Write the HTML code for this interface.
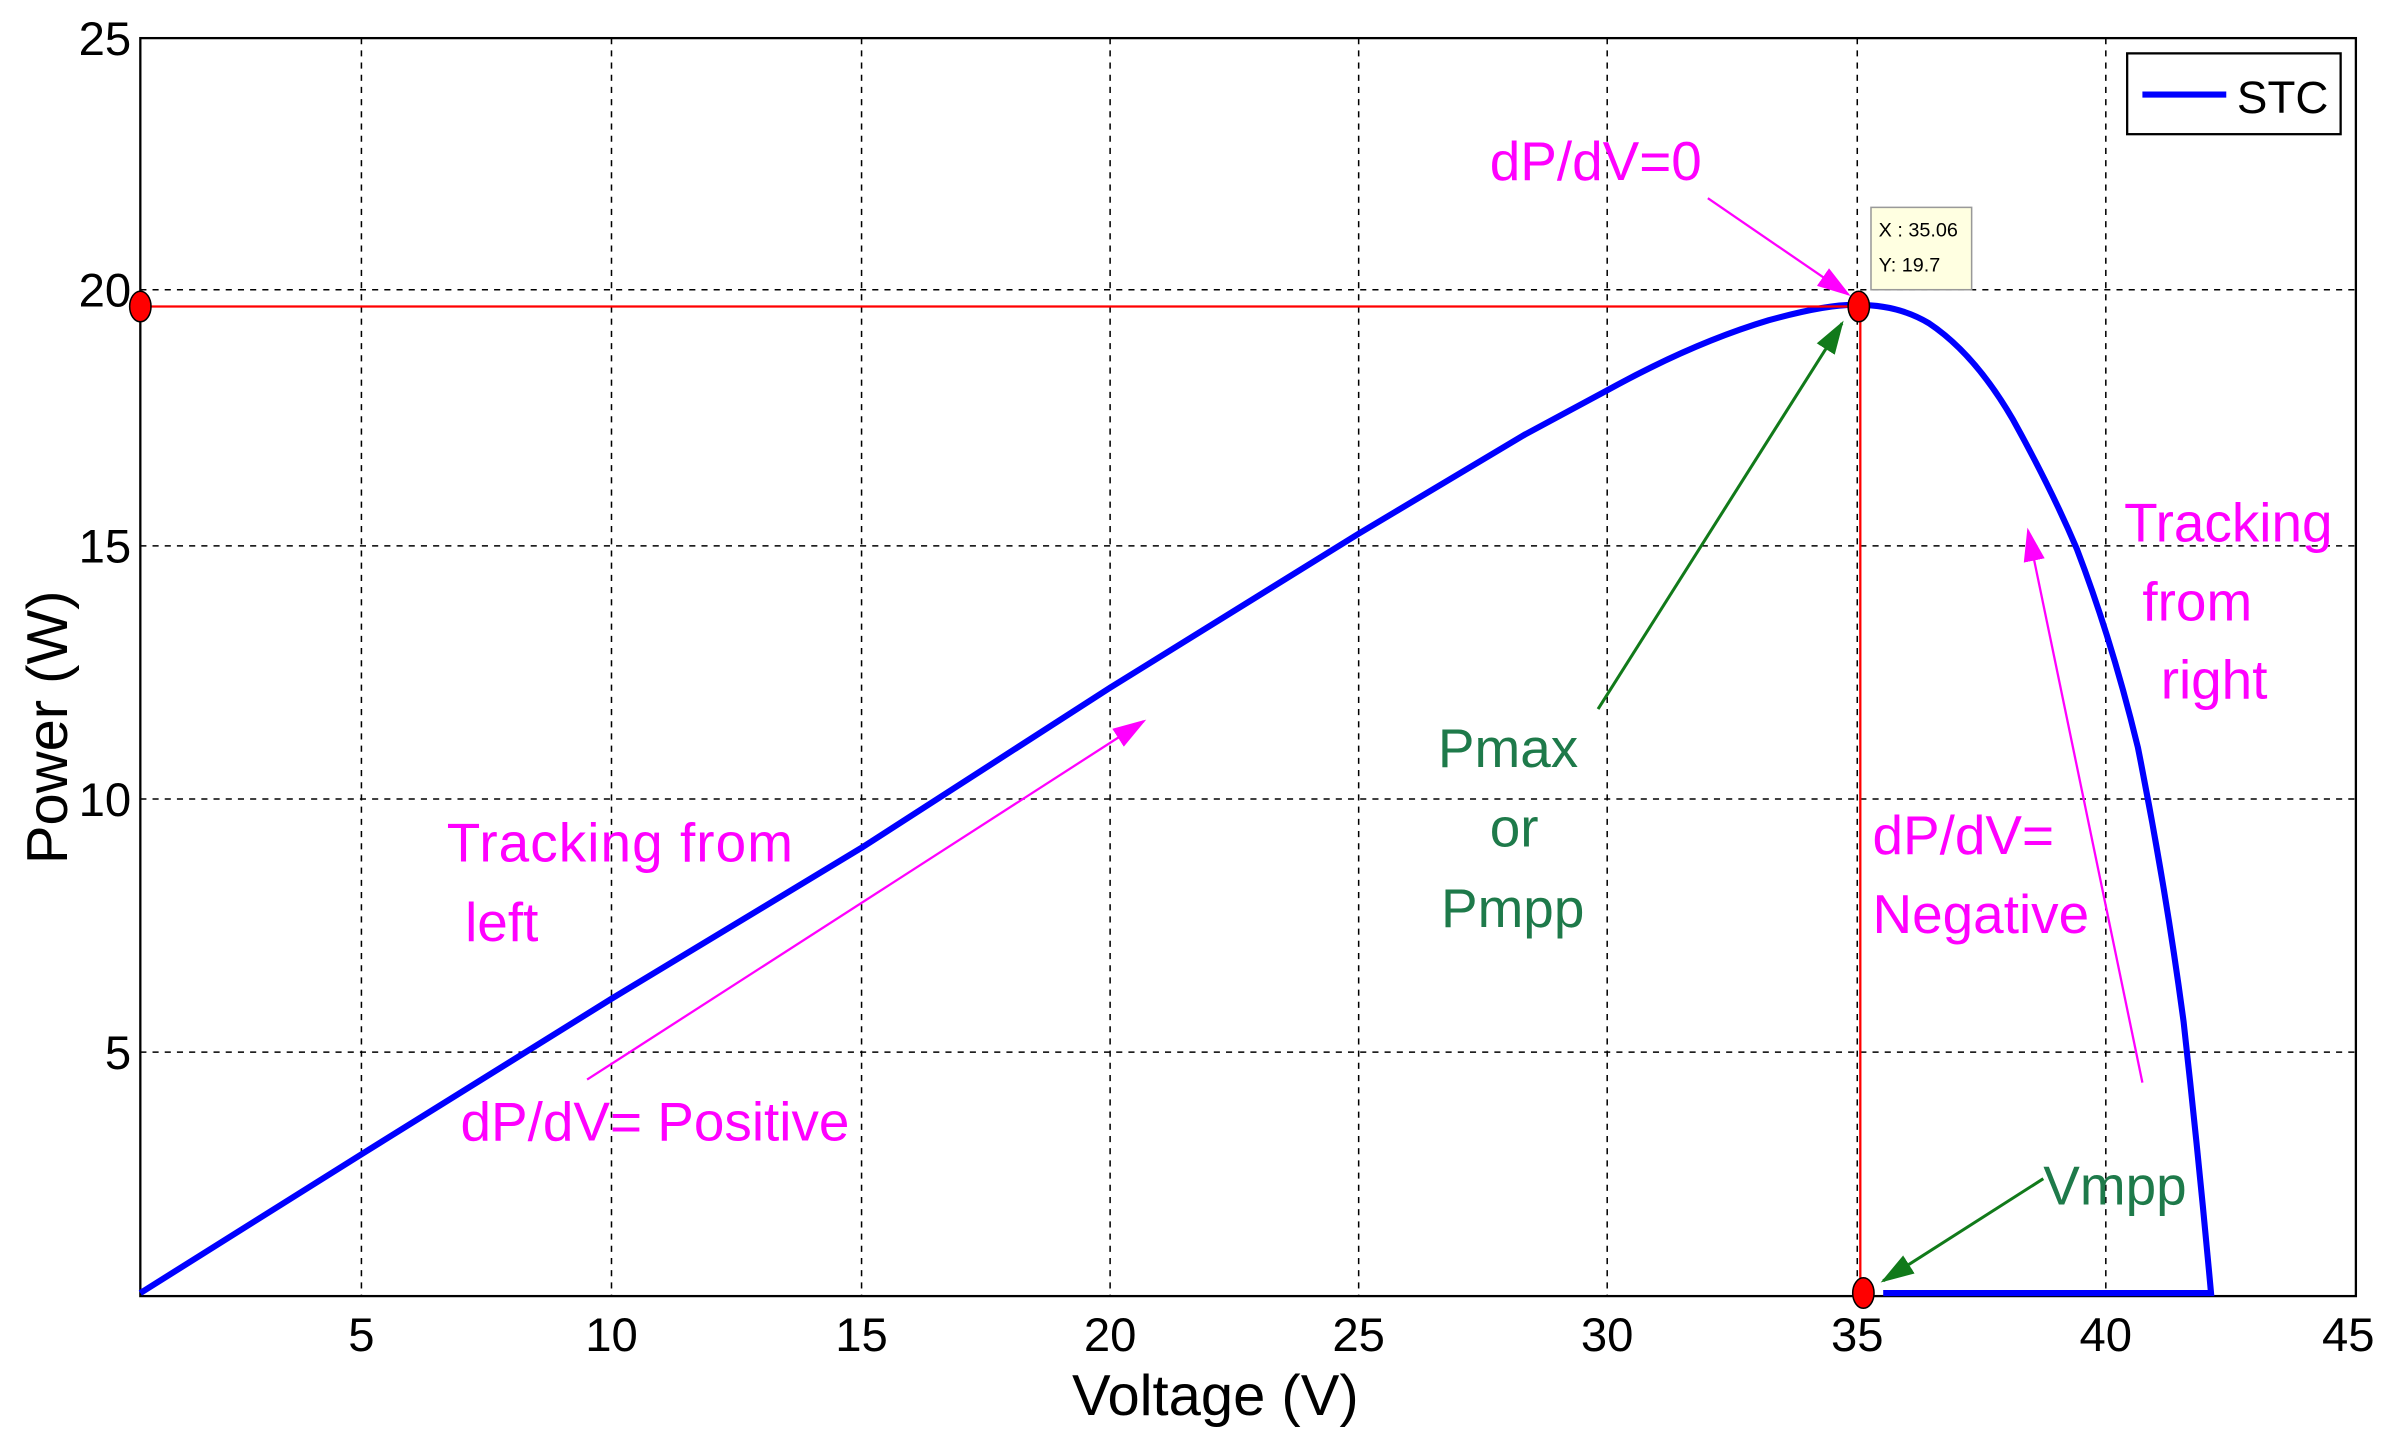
<!DOCTYPE html>
<html><head><meta charset="utf-8"><style>html,body{margin:0;padding:0;background:#fff}svg{display:block}</style></head><body>
<svg xmlns="http://www.w3.org/2000/svg" width="2391" height="1444" viewBox="0 0 1568 947" font-family="Liberation Sans, Arial, sans-serif">
<defs>
<marker id="ag" markerWidth="22" markerHeight="14" refX="20" refY="7" orient="auto" markerUnits="userSpaceOnUse"><path d="M0,0 L22,7 L0,14z" fill="#117a1a"/></marker>
<marker id="am2" markerWidth="22" markerHeight="14" refX="20" refY="7" orient="auto" markerUnits="userSpaceOnUse"><path d="M0,0 L22,7 L0,14z" fill="#ff00ff"/></marker>
</defs>
<rect width="1568" height="947" fill="#fff"/>
<g stroke="#000" stroke-width="1" stroke-dasharray="4,4">
<line x1="237" y1="25" x2="237" y2="850"/><line x1="401" y1="25" x2="401" y2="850"/>
<line x1="565" y1="25" x2="565" y2="850"/><line x1="728" y1="25" x2="728" y2="850"/>
<line x1="891" y1="25" x2="891" y2="850"/><line x1="1054" y1="25" x2="1054" y2="850"/>
<line x1="1218" y1="25" x2="1218" y2="850"/><line x1="1381" y1="25" x2="1381" y2="850"/>
<line x1="92" y1="190" x2="1545" y2="190"/><line x1="92" y1="358" x2="1545" y2="358"/>
<line x1="92" y1="524" x2="1545" y2="524"/><line x1="92" y1="690" x2="1545" y2="690"/>
</g>
<rect x="92" y="25" width="1453" height="825" fill="none" stroke="#000" stroke-width="1.5"/>
<g font-size="31" fill="#000" text-anchor="end">
<text x="86" y="36">25</text><text x="86" y="201">20</text><text x="86" y="369">15</text><text x="86" y="535">10</text><text x="86" y="701">5</text>
</g>
<g font-size="31" fill="#000" text-anchor="middle">
<text x="237" y="886">5</text><text x="401" y="886">10</text><text x="565" y="886">15</text><text x="728" y="886">20</text><text x="891" y="886">25</text><text x="1054" y="886">30</text><text x="1218" y="886">35</text><text x="1381" y="886">40</text><text x="1540" y="886">45</text>
<text x="797" y="928" font-size="38">Voltage (V)</text>
<text transform="translate(44,477) rotate(-90)" font-size="38">Power (W)</text>
</g>
<path d="M92,848 L237,757 L401,655 L565,556 L728,451 L891,350 L1000,285 L1054,256 Q1110,225 1160,210 Q1200,199 1219,200 Q1245,200 1265,212 Q1295,232 1320,275 Q1345,320 1362,360 Q1385,420 1402,490 Q1420,580 1432,670 Q1442,760 1450,848 L1235,848" fill="none" stroke="#0000ff" stroke-width="4"/>
<g stroke="#ff0000" stroke-width="1.5"><line x1="92" y1="201" x2="1219" y2="201"/><line x1="1220" y1="201" x2="1220" y2="848"/></g>
<g fill="#ff0000" stroke="#000" stroke-width="1"><ellipse cx="92" cy="201" rx="7" ry="10"/><ellipse cx="1219" cy="201" rx="7" ry="10"/><ellipse cx="1222" cy="848" rx="7" ry="10"/></g>
<rect x="1395" y="35" width="140" height="53" fill="#fff" stroke="#000" stroke-width="1.5"/>
<line x1="1405" y1="62" x2="1460" y2="62" stroke="#0000ff" stroke-width="4"/>
<text x="1467" y="74" font-size="30">STC</text>
<rect x="1227" y="136" width="66" height="54" fill="#ffffe1" stroke="#999" stroke-width="1"/>
<text x="1232" y="155" font-size="13">X : 35.06</text><text x="1232" y="178" font-size="13">Y: 19.7</text>
<g fill="#ff00ff" font-size="36">
<text x="977" y="118">dP/dV=0</text>
<text x="293" y="565" textLength="227">Tracking from</text><text x="305" y="617">left</text>
<text x="302" y="748">dP/dV= Positive</text>
<text x="1393" y="355">Tracking</text><text x="1405" y="407">from</text><text x="1417" y="458">right</text>
<text x="1228" y="560">dP/dV=</text><text x="1228" y="612">Negative</text>
</g>
<g fill="#1e7a4a" font-size="36">
<text x="943" y="503">Pmax</text><text x="977" y="555">or</text><text x="945" y="608">Pmpp</text>
<text x="1340" y="790">Vmpp</text>
</g>
<g stroke="#ff00ff" stroke-width="1.5" fill="none">
<line x1="1120" y1="130" x2="1212" y2="193" marker-end="url(#am2)"/>
<line x1="385" y1="708" x2="750" y2="473" marker-end="url(#am2)"/>
<line x1="1405" y1="710" x2="1330" y2="348" marker-end="url(#am2)"/>
</g>
<g stroke="#117a1a" stroke-width="2" fill="none">
<line x1="1048" y1="465" x2="1208" y2="212" marker-end="url(#ag)"/>
<line x1="1340" y1="773" x2="1235" y2="840" marker-end="url(#ag)"/>
</g>
</svg>
</body></html>
